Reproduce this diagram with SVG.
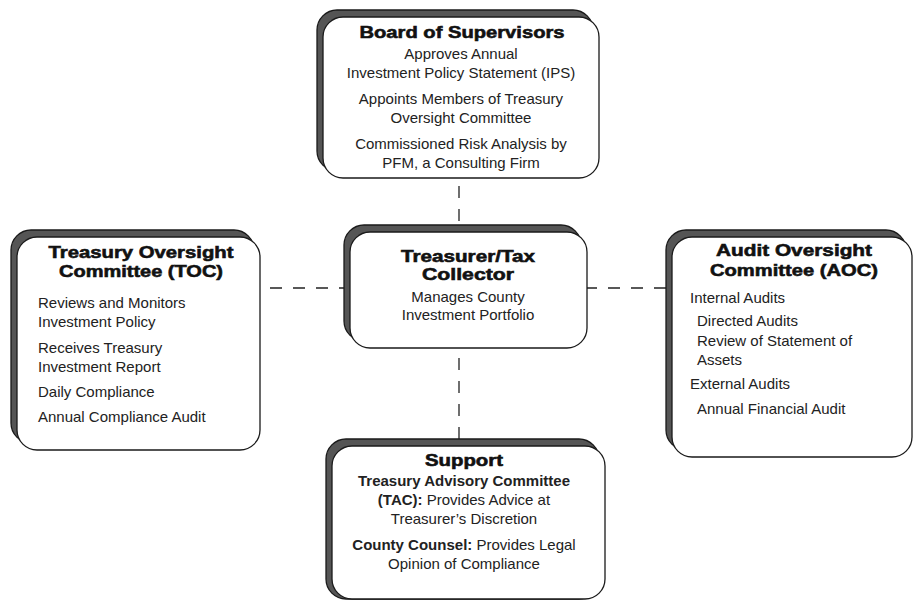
<svg xmlns="http://www.w3.org/2000/svg" width="914" height="600" viewBox="0 0 914 600">
<style>
.sh{fill:#555;stroke:#1a1a1a;stroke-width:1.3}
.bx{fill:#fff;stroke:#1a1a1a;stroke-width:1.3}
.t{font-family:"Liberation Sans",Arial,sans-serif;font-weight:bold;font-size:17px;fill:#111;stroke:#111;stroke-width:0.6;text-anchor:middle}
.b{font-family:"Liberation Sans",Arial,sans-serif;font-size:15px;fill:#222}
.c{text-anchor:middle}
.k{font-weight:bold}
.ln{stroke:#222;stroke-width:1.3;stroke-dasharray:12 11;fill:none}
</style>
<rect width="914" height="600" fill="#fff"/>
<g id="connectors">
<line class="ln" x1="459" y1="186" x2="459" y2="232"/>
<line class="ln" x1="270" y1="288" x2="350" y2="288"/>
<line class="ln" x1="585" y1="288" x2="672" y2="288"/>
<line class="ln" x1="459" y1="358" x2="459" y2="446"/>
</g>
<g id="board">
<rect class="sh" x="317" y="10" width="276" height="161" rx="20"/>
<rect class="bx" x="323" y="17" width="276" height="161" rx="20"/>
<text class="t" x="462" y="38" textLength="205" lengthAdjust="spacingAndGlyphs">Board of Supervisors</text>
<text class="b c" x="461" y="59">Approves Annual</text>
<text class="b c" x="461" y="78">Investment Policy Statement (IPS)</text>
<text class="b c" x="461" y="104">Appoints Members of Treasury</text>
<text class="b c" x="461" y="123">Oversight Committee</text>
<text class="b c" x="461" y="149">Commissioned Risk Analysis by</text>
<text class="b c" x="461" y="168">PFM, a Consulting Firm</text>
</g>
<g id="toc">
<rect class="sh" x="11" y="230" width="243" height="213" rx="20"/>
<rect class="bx" x="17" y="237" width="243" height="213" rx="20"/>
<text class="t" x="141" y="258" textLength="185" lengthAdjust="spacingAndGlyphs">Treasury Oversight</text>
<text class="t" x="141" y="277" textLength="164" lengthAdjust="spacingAndGlyphs">Committee (TOC)</text>
<text class="b" x="38" y="308">Reviews and Monitors</text>
<text class="b" x="38" y="327">Investment Policy</text>
<text class="b" x="38" y="353">Receives Treasury</text>
<text class="b" x="38" y="372">Investment Report</text>
<text class="b" x="38" y="397">Daily Compliance</text>
<text class="b" x="38" y="422">Annual Compliance Audit</text>
</g>
<g id="treasurer">
<rect class="sh" x="344" y="225" width="237" height="116" rx="20"/>
<rect class="bx" x="350" y="232" width="237" height="116" rx="20"/>
<text class="t" x="468" y="262" textLength="134" lengthAdjust="spacingAndGlyphs">Treasurer/Tax</text>
<text class="t" x="468" y="280" textLength="92" lengthAdjust="spacingAndGlyphs">Collector</text>
<text class="b c" x="468" y="302">Manages County</text>
<text class="b c" x="468" y="320">Investment Portfolio</text>
</g>
<g id="aoc">
<rect class="sh" x="666" y="230" width="240" height="220" rx="20"/>
<rect class="bx" x="672" y="237" width="240" height="220" rx="20"/>
<text class="t" x="794" y="256" textLength="156" lengthAdjust="spacingAndGlyphs">Audit Oversight</text>
<text class="t" x="794" y="276" textLength="168" lengthAdjust="spacingAndGlyphs">Committee (AOC)</text>
<text class="b" x="690" y="303">Internal Audits</text>
<text class="b" x="697" y="326">Directed Audits</text>
<text class="b" x="697" y="346">Review of Statement of</text>
<text class="b" x="697" y="365">Assets</text>
<text class="b" x="690" y="389">External Audits</text>
<text class="b" x="697" y="414">Annual Financial Audit</text>
</g>
<g id="support">
<rect class="sh" x="326" y="439" width="273" height="160" rx="20"/>
<rect class="bx" x="332" y="446" width="273" height="153" rx="20"/>
<text class="t" x="464" y="466" textLength="78" lengthAdjust="spacingAndGlyphs">Support</text>
<text class="b c" x="464" y="486"><tspan class="k">Treasury Advisory Committee</tspan></text>
<text class="b c" x="464" y="505"><tspan class="k">(TAC):</tspan> Provides Advice at</text>
<text class="b c" x="464" y="524">Treasurer’s Discretion</text>
<text class="b c" x="464" y="550"><tspan class="k">County Counsel:</tspan> Provides Legal</text>
<text class="b c" x="464" y="569">Opinion of Compliance</text>
</g>
</svg>
